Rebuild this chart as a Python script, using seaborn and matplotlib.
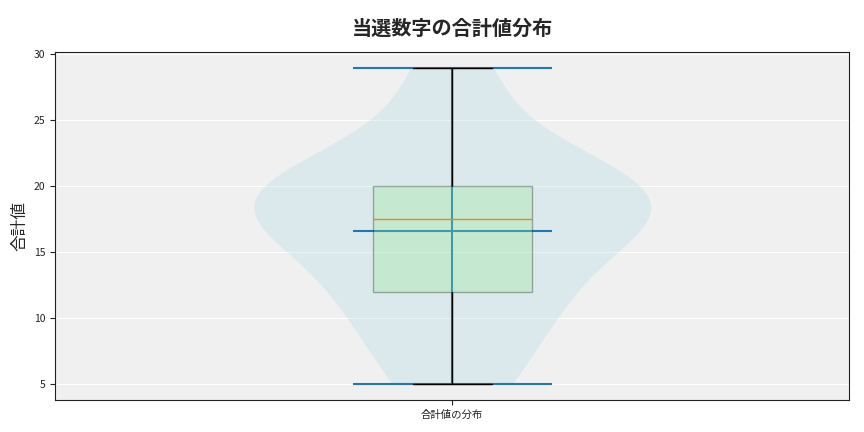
import numpy as np
import pandas as pd
import matplotlib
matplotlib.use("Agg")
import matplotlib.pyplot as plt
import seaborn as sns

# ── data (sums of winning numbers) ───────────────────────────────────────
sums = [5, 5, 9, 10, 12, 12, 14, 16, 17, 17,
        18, 19, 19, 20, 20, 20, 21, 22, 27, 29]
group_label = "合計値の分布"
title = "当選数字の合計値分布"
y_label = "合計値"

df = pd.DataFrame({"group": group_label, "total": sums})

sns.set_style("darkgrid", {
    "axes.facecolor": "#f0f0f0",
    "axes.edgecolor": "#222222",
    "grid.color": "white",
    "xtick.bottom": True,
    "ytick.left": True,
})
plt.rcParams["font.family"] = ["Noto Sans CJK JP", "DejaVu Sans"]

fig, ax = plt.subplots(figsize=(8.64, 4.32), dpi=100)
fig.subplots_adjust(left=0.064, right=0.983, top=0.880, bottom=0.074)

# violin body
sns.violinplot(data=df, x="group", y="total", cut=0, inner=None, width=0.5,
               color="lightblue", saturation=1, linewidth=0, alpha=0.3, ax=ax)

# mean / extrema bars like matplotlib's violinplot
vals = np.asarray(sums)
half = 0.125
ax.vlines(0, vals.min(), vals.max(), color="C0", lw=1.5, zorder=1.5)
ax.hlines([vals.min(), vals.max(), vals.mean()], -half, half,
          color="C0", lw=1.5, zorder=1.5)

# box on top
sns.boxplot(data=df, x="group", y="total", width=0.2, color="lightgreen",
            saturation=1, linecolor="black", linewidth=1, ax=ax,
            medianprops=dict(color="#ff7f0e", zorder=3), showfliers=False)
for p in ax.patches:
    p.set_facecolor("lightgreen")
    p.set_edgecolor("black")
    p.set_alpha(0.3)

ax.set_title(title, fontsize=14.5, fontweight="bold", pad=12)
ax.set_xlabel("")
ax.set_ylabel(y_label, fontsize=12)
ax.tick_params(axis="both", labelsize=7.5, length=3.5, width=0.8,
               colors="#222222")

fig.savefig("out.png", dpi=100)
plt.close(fig)
